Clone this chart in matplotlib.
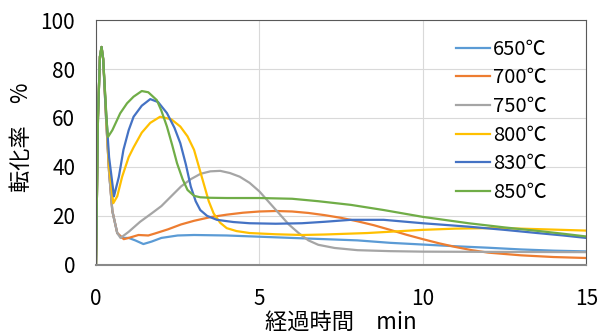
import matplotlib
matplotlib.use('Agg')
import matplotlib.pyplot as plt

plt.rcParams['font.family'] = ['Noto Sans CJK JP', 'DejaVu Sans']

# 経過時間 (min) と 転化率 (%) - 図から読み取り
t650 = [0, 0.06, 0.12, 0.17, 0.22, 0.3, 0.4, 0.5, 0.65, 0.8, 1.0, 1.2, 1.45, 1.7, 2.0, 2.5, 3.0, 4.0, 5.0,
        6.0, 7.0, 8.0, 9.0, 10.0, 11.0, 12.0, 13.0, 14.0, 15.0]
v650 = [0, 60, 85, 89, 84, 62, 38, 22, 13, 11, 11, 10, 8.5, 9.5, 11, 12, 12.2, 12, 11.5,
        11, 10.5, 10, 9, 8.3, 7.6, 7, 6.3, 5.8, 5.5]

t700 = [0, 0.06, 0.12, 0.17, 0.22, 0.3, 0.4, 0.5, 0.65, 0.85, 1.0, 1.3, 1.6, 1.8, 2.2, 2.6, 3.0, 3.5, 4.0,
        4.5, 5.0, 5.5, 6.0, 6.5, 7.0, 7.5, 8.0, 8.5, 9.0, 9.5, 10.0, 10.5, 11.0, 11.5, 12.0, 13.0, 14.0, 15.0]
v700 = [0, 60, 85, 89, 84, 62, 38, 22, 13, 10.5, 11, 12.2, 12, 12.8, 14.5, 16.5, 18, 19.5, 20.5,
        21.3, 21.8, 22, 21.8, 21.2, 20.3, 19.2, 17.8, 16.2, 14.3, 12.3, 10.5, 8.8, 7.3, 6, 5, 3.9, 3.2, 2.8]

t750 = [0, 0.06, 0.12, 0.17, 0.22, 0.3, 0.4, 0.5, 0.65, 0.75, 1.0, 1.35, 1.7, 2.0, 2.3, 2.6, 2.9, 3.2, 3.5,
        3.8, 4.1, 4.4, 4.7, 5.0, 5.3, 5.6, 5.9, 6.2, 6.5, 6.8, 7.3, 8.0, 9.0, 10.0, 12.0, 15.0]
v750 = [0, 60, 85, 89, 84, 62, 38, 22, 13, 11, 13.5, 17.6, 21, 24, 28, 32, 35, 37.2, 38.2,
        38.4, 37.5, 36, 33.5, 30, 25.5, 21, 16.5, 13, 10, 8.2, 6.9, 6, 5.6, 5.4, 5.3, 5.2]

t800 = [0, 0.06, 0.12, 0.17, 0.22, 0.3, 0.4, 0.53, 0.65, 0.8, 1.0, 1.15, 1.4, 1.66, 1.96, 2.3, 2.58, 2.8,
        3.0, 3.15, 3.3, 3.45, 3.6, 3.8, 4.0, 4.3, 4.7, 5.5, 6.3, 7.0, 8.3, 10.0, 11.0, 12.0, 13.0, 14.0, 15.0]
v800 = [0, 60, 85, 89, 84, 64, 40, 25.2, 28, 36, 44, 48, 54, 58, 60.5, 59.5, 56.5, 52.5,
        47, 40, 33, 26, 21, 17.2, 15, 13.8, 13, 12.5, 12.2, 12.4, 13, 14.3, 14.8, 15, 14.8, 14.4, 14]

t830 = [0, 0.06, 0.12, 0.17, 0.22, 0.3, 0.4, 0.55, 0.7, 0.84, 1.0, 1.15, 1.4, 1.66, 1.9, 2.17, 2.4, 2.58,
        2.75, 2.9, 3.05, 3.19, 3.4, 3.7, 4.2, 4.7, 5.5, 6.3, 7.0, 7.8, 8.8, 10.0, 11.4, 12.5, 13.5, 14.3, 15.0]
v830 = [0, 60, 85, 89, 84, 64, 44, 28, 36, 47, 55, 60.5, 65, 67.7, 66.5, 62, 56, 49.7,
        41, 32, 26, 22.4, 20, 18.4, 17.5, 17, 16.8, 17, 17.6, 18.4, 18.4, 17, 15.6, 14.3, 13, 12, 11]

t850 = [0, 0.06, 0.12, 0.17, 0.22, 0.28, 0.33, 0.37, 0.5, 0.74, 0.95, 1.15, 1.4, 1.6, 1.86, 2.0, 2.17, 2.33,
        2.48, 2.65, 2.8, 3.0, 3.19, 3.5, 4.0, 5.0, 6.0, 6.8, 7.8, 8.8, 10.0, 11.4, 12.5, 13.5, 14.3, 15.0]
v850 = [0, 60, 85, 89, 84, 70, 58, 52.3, 55, 61.9, 66, 68.7, 71, 70.5, 67.3, 63, 56.5, 49,
        41.5, 35, 30.6, 28.2, 27.6, 27.4, 27.3, 27.3, 27, 26, 24.5, 22.4, 19.6, 17, 15.3, 13.9, 12.7, 11.6]

labels = ['650℃', '700℃', '750℃', '800℃', '830℃', '850℃']
colors = ['#5B9BD5', '#ED7D31', '#A5A5A5', '#FFC000', '#4472C4', '#70AD47']
series = [(t650, v650), (t700, v700), (t750, v750), (t800, v800), (t830, v830), (t850, v850)]

fig = plt.figure(figsize=(6, 3.34), dpi=100)
ax = fig.add_axes([0.16, 0.207, 0.817, 0.733])

for (t, v), lab, c in zip(series, labels, colors):
    ax.plot(t, v, color=c, lw=1.6, label=lab)

ax.set_xlim(0, 15)
ax.set_ylim(0, 100)
ax.set_xticks([0, 5, 10, 15])
ax.set_yticks([0, 20, 40, 60, 80, 100])
ax.grid(True, color='#d9d9d9', lw=0.8)
ax.set_axisbelow(True)
ax.tick_params(length=0, labelsize=15, colors='#000000')
ax.tick_params(axis='y', pad=15)
ax.tick_params(axis='x', pad=17)
for s in ['top', 'right', 'left']:
    ax.spines[s].set_color('#595959')
    ax.spines[s].set_linewidth(0.8)
ax.spines['bottom'].set_color('#898989')
ax.spines['bottom'].set_linewidth(1.5)

ax.set_xlabel('経過時間　min', fontsize=16, labelpad=0)
ax.set_ylabel('転化率　%', fontsize=16)
ax.yaxis.set_label_coords(-0.128, 0.52)

ax.legend(loc='upper right', frameon=False, fontsize=14.5, handlelength=1.7,
          handletextpad=0.15, labelspacing=0.38, bbox_to_anchor=(0.957, 0.998))

fig.savefig('out.png', dpi=100)
